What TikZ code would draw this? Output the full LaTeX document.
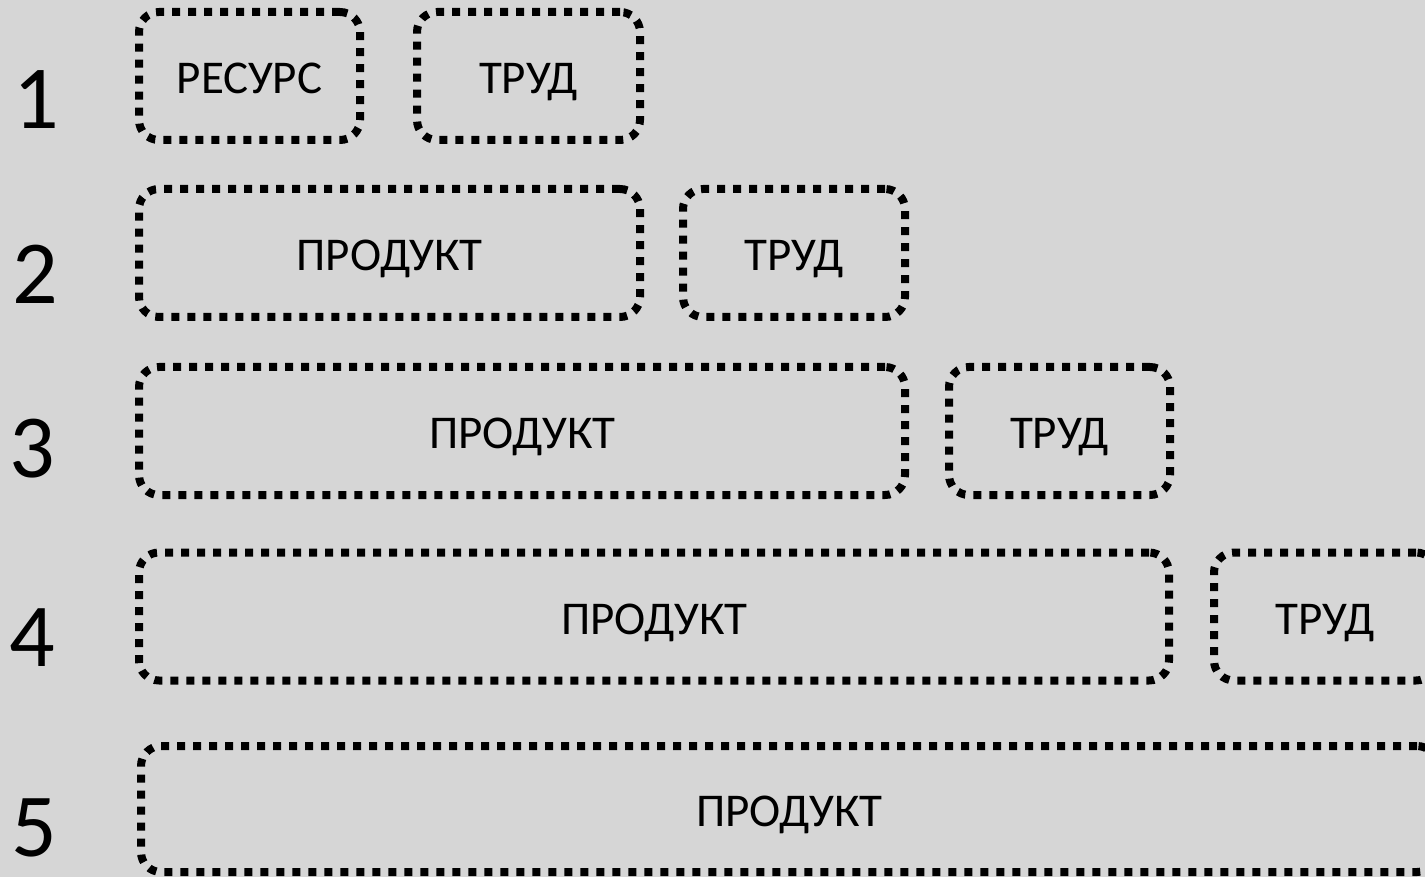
\documentclass[tikz,border=0pt]{standalone}
\usepackage{fontspec}
\setmainfont{Carlito}
\usetikzlibrary{shapes}
\definecolor{bggray}{RGB}{214,214,214}

\begin{document}
\begin{tikzpicture}[x=1pt,y=-1pt,every text node part/.style={align=center},
		dotbox/.style={draw,line width=8pt,dash pattern=on 8pt off 8pt,rounded corners=20pt,
			inner sep=0pt,minimum height=128pt,text height=35pt,text depth=0pt,
			font=\fontsize{47}{50}\selectfont},
		rownum/.style={inner sep=0pt,font=\fontsize{90}{95}\selectfont}]
		\useasboundingbox (0,0) rectangle (1425,877);
		\fill[bggray] (0,0) rectangle (1425,877);
		
		%row numbers
		\node[rownum] (n1) at (36,100) {1};
		\node[rownum] (n2) at (35,274) {2};
		\node[rownum] (n3) at (32,449) {3};
		\node[rownum] (n4) at (32,638) {4};
		\node[rownum] (n5) at (34,828) {5};
		
		%row 1
		\node[dotbox,minimum width=221pt] (res1) at (249.5,76) {РЕСУРС};
		\node[dotbox,minimum width=223pt] (trud1) at (528.5,76) {ТРУД};
		
		%row 2
		\node[dotbox,minimum width=501pt] (prod2) at (389.5,253) {ПРОДУКТ};
		\node[dotbox,minimum width=222pt] (trud2) at (794,253) {ТРУД};
		
		%row 3
		\node[dotbox,minimum width=766pt] (prod3) at (522,431) {ПРОДУКТ};
		\node[dotbox,minimum width=221pt] (trud3) at (1059.5,431) {ТРУД};
		
		%row 4
		\node[dotbox,minimum width=1030pt] (prod4) at (654,616.5) {ПРОДУКТ};
		\node[dotbox,minimum width=222pt] (trud4) at (1325,616.5) {ТРУД};
		
		%row 5
		\node[dotbox,minimum width=1296pt,minimum height=126pt] (prod5) at (789,809) {ПРОДУКТ};
		
\end{tikzpicture}
\end{document}
